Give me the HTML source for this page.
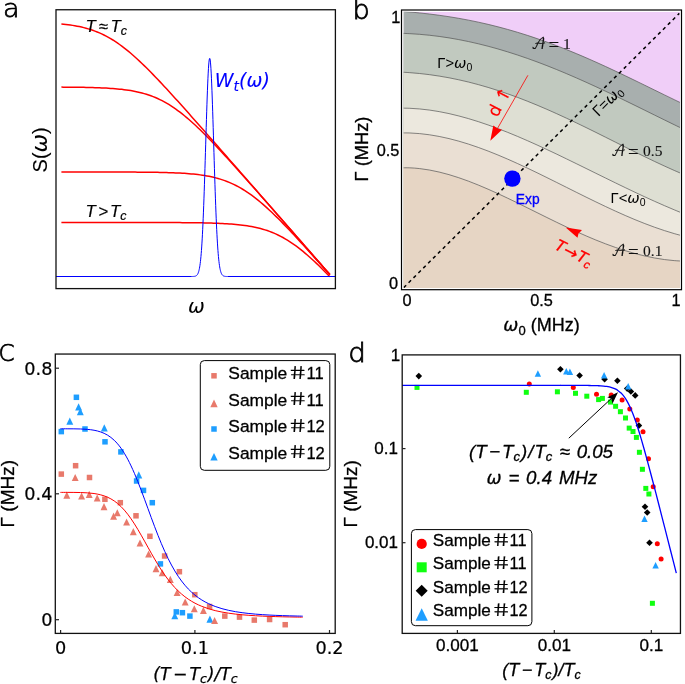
<!DOCTYPE html>
<html lang="en">
<head>
<meta charset="utf-8">
<title>Figure</title>
<style>
html,body{margin:0;padding:0;background:#fff;}
body{width:685px;height:684px;overflow:hidden;}
svg{display:block;}
text{font-family:"Liberation Sans", sans-serif;}
.dj{font-family:"DejaVu Sans", "Liberation Sans", sans-serif;}
.math{font-family:"DejaVu Math TeX Gyre", "DejaVu Serif", "Liberation Serif", serif;}
.it{font-style:italic;}
.ser{font-family:"Liberation Serif", serif;}
</style>
</head>
<body>
<svg width="685" height="684" viewBox="0 0 685 684">
<rect x="0" y="0" width="685" height="684" fill="#ffffff"/>
<g id="panel-a">
<path d="M61.40,23.99 L63.64,24.22 L65.88,24.47 L68.11,24.74 L70.35,25.05 L72.59,25.38 L74.83,25.75 L77.06,26.16 L79.30,26.60 L81.54,27.09 L83.78,27.63 L86.01,28.21 L88.25,28.85 L90.49,29.54 L92.72,30.28 L94.96,31.09 L97.20,31.97 L99.44,32.90 L101.67,33.91 L103.91,34.98 L106.15,36.13 L108.39,37.35 L110.62,38.63 L112.86,39.99 L115.10,41.42 L117.34,42.92 L119.57,44.49 L121.81,46.13 L124.05,47.83 L126.29,49.60 L128.53,51.42 L130.76,53.30 L133.00,55.24 L135.24,57.23 L137.47,59.27 L139.71,61.35 L141.95,63.47 L144.19,65.63 L146.43,67.83 L148.66,70.07 L150.90,72.33 L153.14,74.62 L155.38,76.94 L157.61,79.28 L159.85,81.64 L162.09,84.03 L164.32,86.43 L166.56,88.84 L168.80,91.28 L171.04,93.72 L173.28,96.18 L175.51,98.64 L177.75,101.12 L179.99,103.61 L182.22,106.10 L184.46,108.60 L186.70,111.11 L188.94,113.62 L191.18,116.14 L193.41,118.66 L195.65,121.19 L197.89,123.72 L200.12,126.25 L202.36,128.79 L204.60,131.32 L206.84,133.87 L209.08,136.41 L211.31,138.96 L213.55,141.50 L215.79,144.05 L218.03,146.60 L220.26,149.15 L222.50,151.71 L224.74,154.26 L226.97,156.81 L229.21,159.37 L231.45,161.93 L233.69,164.48 L235.93,167.04 L238.16,169.60 L240.40,172.15 L242.64,174.71 L244.88,177.27 L247.11,179.83 L249.35,182.39 L251.59,184.95 L253.83,187.51 L256.06,190.07 L258.30,192.63 L260.54,195.19 L262.77,197.75 L265.01,200.31 L267.25,202.87 L269.49,205.44 L271.72,208.00 L273.96,210.56 L276.20,213.12 L278.44,215.68 L280.68,218.24 L282.91,220.80 L285.15,223.36 L287.39,225.93 L289.62,228.49 L291.86,231.05 L294.10,233.61 L296.34,236.17 L298.57,238.73 L300.81,241.30 L303.05,243.86 L305.29,246.42 L307.52,248.98 L309.76,251.54 L312.00,254.11 L314.24,256.67 L316.47,259.23 L318.71,261.79 L320.95,264.35 L323.19,266.91 L325.42,269.48 L327.66,272.04 L329.90,274.60" fill="none" stroke="#ff0000" stroke-width="1.5" stroke-linejoin="round"/>
<path d="M61.40,87.12 L63.64,87.14 L65.88,87.15 L68.11,87.17 L70.35,87.19 L72.59,87.21 L74.83,87.24 L77.06,87.26 L79.30,87.30 L81.54,87.33 L83.78,87.37 L86.01,87.41 L88.25,87.46 L90.49,87.51 L92.72,87.58 L94.96,87.64 L97.20,87.72 L99.44,87.80 L101.67,87.89 L103.91,88.00 L106.15,88.11 L108.39,88.24 L110.62,88.38 L112.86,88.54 L115.10,88.72 L117.34,88.91 L119.57,89.13 L121.81,89.37 L124.05,89.64 L126.29,89.93 L128.53,90.25 L130.76,90.61 L133.00,91.00 L135.24,91.43 L137.47,91.90 L139.71,92.42 L141.95,92.99 L144.19,93.60 L146.43,94.27 L148.66,95.00 L150.90,95.79 L153.14,96.63 L155.38,97.55 L157.61,98.53 L159.85,99.58 L162.09,100.70 L164.32,101.89 L166.56,103.15 L168.80,104.48 L171.04,105.88 L173.28,107.36 L175.51,108.90 L177.75,110.52 L179.99,112.19 L182.22,113.94 L184.46,115.74 L186.70,117.60 L188.94,119.52 L191.18,121.49 L193.41,123.50 L195.65,125.57 L197.89,127.68 L200.12,129.83 L202.36,132.01 L204.60,134.23 L206.84,136.49 L209.08,138.77 L211.31,141.08 L213.55,143.41 L215.79,145.76 L218.03,148.14 L220.26,150.53 L222.50,152.94 L224.74,155.37 L226.97,157.81 L229.21,160.26 L231.45,162.73 L233.69,165.20 L235.93,167.68 L238.16,170.17 L240.40,172.67 L242.64,175.17 L244.88,177.68 L247.11,180.20 L249.35,182.72 L251.59,185.25 L253.83,187.78 L256.06,190.31 L258.30,192.84 L260.54,195.38 L262.77,197.92 L265.01,200.46 L267.25,203.01 L269.49,205.56 L271.72,208.10 L273.96,210.65 L276.20,213.21 L278.44,215.76 L280.68,218.31 L282.91,220.87 L285.15,223.42 L287.39,225.98 L289.62,228.53 L291.86,231.09 L294.10,233.65 L296.34,236.20 L298.57,238.76 L300.81,241.32 L303.05,243.88 L305.29,246.44 L307.52,249.00 L309.76,251.56 L312.00,254.12 L314.24,256.68 L316.47,259.24 L318.71,261.80 L320.95,264.36 L323.19,266.92 L325.42,269.48 L327.66,272.05 L329.90,274.61" fill="none" stroke="#ff0000" stroke-width="1.5" stroke-linejoin="round"/>
<path d="M61.40,172.00 L63.64,172.00 L65.88,172.00 L68.11,172.00 L70.35,172.00 L72.59,172.01 L74.83,172.01 L77.06,172.01 L79.30,172.01 L81.54,172.01 L83.78,172.01 L86.01,172.01 L88.25,172.01 L90.49,172.01 L92.72,172.01 L94.96,172.02 L97.20,172.02 L99.44,172.02 L101.67,172.02 L103.91,172.02 L106.15,172.03 L108.39,172.03 L110.62,172.03 L112.86,172.04 L115.10,172.04 L117.34,172.05 L119.57,172.05 L121.81,172.06 L124.05,172.07 L126.29,172.08 L128.53,172.08 L130.76,172.09 L133.00,172.11 L135.24,172.12 L137.47,172.13 L139.71,172.15 L141.95,172.17 L144.19,172.19 L146.43,172.21 L148.66,172.23 L150.90,172.26 L153.14,172.29 L155.38,172.32 L157.61,172.36 L159.85,172.40 L162.09,172.45 L164.32,172.50 L166.56,172.56 L168.80,172.63 L171.04,172.70 L173.28,172.79 L175.51,172.88 L177.75,172.98 L179.99,173.09 L182.22,173.22 L184.46,173.36 L186.70,173.51 L188.94,173.69 L191.18,173.88 L193.41,174.09 L195.65,174.33 L197.89,174.59 L200.12,174.87 L202.36,175.19 L204.60,175.54 L206.84,175.93 L209.08,176.35 L211.31,176.82 L213.55,177.33 L215.79,177.88 L218.03,178.49 L220.26,179.15 L222.50,179.87 L224.74,180.64 L226.97,181.48 L229.21,182.38 L231.45,183.35 L233.69,184.38 L235.93,185.49 L238.16,186.67 L240.40,187.92 L242.64,189.24 L244.88,190.63 L247.11,192.09 L249.35,193.62 L251.59,195.22 L253.83,196.89 L256.06,198.62 L258.30,200.41 L260.54,202.26 L262.77,204.17 L265.01,206.13 L267.25,208.14 L269.49,210.20 L271.72,212.30 L273.96,214.44 L276.20,216.62 L278.44,218.84 L280.68,221.08 L282.91,223.36 L285.15,225.66 L287.39,227.99 L289.62,230.34 L291.86,232.72 L294.10,235.11 L296.34,237.51 L298.57,239.94 L300.81,242.37 L303.05,244.82 L305.29,247.29 L307.52,249.76 L309.76,252.24 L312.00,254.73 L314.24,257.22 L316.47,259.73 L318.71,262.24 L320.95,264.75 L323.19,267.27 L325.42,269.80 L327.66,272.32 L329.90,274.86" fill="none" stroke="#ff0000" stroke-width="1.5" stroke-linejoin="round"/>
<path d="M61.40,222.50 L63.64,222.50 L65.88,222.50 L68.11,222.50 L70.35,222.50 L72.59,222.50 L74.83,222.50 L77.06,222.50 L79.30,222.50 L81.54,222.50 L83.78,222.50 L86.01,222.50 L88.25,222.50 L90.49,222.50 L92.72,222.50 L94.96,222.50 L97.20,222.50 L99.44,222.50 L101.67,222.50 L103.91,222.50 L106.15,222.50 L108.39,222.50 L110.62,222.50 L112.86,222.50 L115.10,222.50 L117.34,222.51 L119.57,222.51 L121.81,222.51 L124.05,222.51 L126.29,222.51 L128.53,222.51 L130.76,222.51 L133.00,222.51 L135.24,222.51 L137.47,222.51 L139.71,222.52 L141.95,222.52 L144.19,222.52 L146.43,222.52 L148.66,222.53 L150.90,222.53 L153.14,222.53 L155.38,222.54 L157.61,222.54 L159.85,222.54 L162.09,222.55 L164.32,222.56 L166.56,222.56 L168.80,222.57 L171.04,222.58 L173.28,222.59 L175.51,222.60 L177.75,222.61 L179.99,222.62 L182.22,222.64 L184.46,222.65 L186.70,222.67 L188.94,222.69 L191.18,222.71 L193.41,222.74 L195.65,222.77 L197.89,222.80 L200.12,222.83 L202.36,222.87 L204.60,222.92 L206.84,222.97 L209.08,223.02 L211.31,223.08 L213.55,223.15 L215.79,223.23 L218.03,223.31 L220.26,223.40 L222.50,223.51 L224.74,223.63 L226.97,223.76 L229.21,223.90 L231.45,224.06 L233.69,224.24 L235.93,224.44 L238.16,224.66 L240.40,224.90 L242.64,225.17 L244.88,225.46 L247.11,225.79 L249.35,226.15 L251.59,226.55 L253.83,226.98 L256.06,227.46 L258.30,227.98 L260.54,228.55 L262.77,229.17 L265.01,229.85 L267.25,230.58 L269.49,231.38 L271.72,232.23 L273.96,233.15 L276.20,234.14 L278.44,235.20 L280.68,236.32 L282.91,237.52 L285.15,238.79 L287.39,240.13 L289.62,241.54 L291.86,243.03 L294.10,244.58 L296.34,246.20 L298.57,247.88 L300.81,249.63 L303.05,251.44 L305.29,253.31 L307.52,255.23 L309.76,257.21 L312.00,259.23 L314.24,261.30 L316.47,263.41 L318.71,265.57 L320.95,267.76 L323.19,269.98 L325.42,272.24 L327.66,274.52 L329.90,276.83" fill="none" stroke="#ff0000" stroke-width="1.5" stroke-linejoin="round"/>
<path d="M56.00,276.50 L191.70,276.49 L191.95,276.49 L192.20,276.48 L192.45,276.48 L192.70,276.47 L192.95,276.47 L193.20,276.46 L193.45,276.44 L193.70,276.43 L193.95,276.41 L194.20,276.38 L194.45,276.35 L194.70,276.31 L194.95,276.26 L195.20,276.19 L195.45,276.12 L195.70,276.02 L195.95,275.91 L196.20,275.77 L196.45,275.60 L196.70,275.39 L196.95,275.14 L197.20,274.85 L197.45,274.49 L197.70,274.08 L197.95,273.58 L198.20,273.00 L198.45,272.32 L198.70,271.53 L198.95,270.61 L199.20,269.54 L199.45,268.32 L199.70,266.91 L199.95,265.31 L200.20,263.50 L200.45,261.45 L200.70,259.14 L200.95,256.56 L201.20,253.68 L201.45,250.49 L201.70,246.97 L201.95,243.10 L202.20,238.88 L202.45,234.28 L202.70,229.31 L202.95,223.96 L203.20,218.23 L203.45,212.13 L203.70,205.66 L203.95,198.85 L204.20,191.72 L204.45,184.29 L204.70,176.60 L204.95,168.69 L205.20,160.61 L205.45,152.42 L205.70,144.16 L205.95,135.89 L206.20,127.70 L206.45,119.64 L206.70,111.79 L206.95,104.23 L207.20,97.01 L207.45,90.23 L207.70,83.94 L207.95,78.21 L208.20,73.12 L208.45,68.70 L208.70,65.01 L208.95,62.10 L209.20,60.00 L209.45,58.73 L209.70,58.30 L209.95,58.73 L210.20,60.00 L210.45,62.10 L210.70,65.01 L210.95,68.70 L211.20,73.12 L211.45,78.21 L211.70,83.94 L211.95,90.23 L212.20,97.01 L212.45,104.23 L212.70,111.79 L212.95,119.64 L213.20,127.70 L213.45,135.89 L213.70,144.16 L213.95,152.42 L214.20,160.61 L214.45,168.69 L214.70,176.60 L214.95,184.29 L215.20,191.72 L215.45,198.85 L215.70,205.66 L215.95,212.13 L216.20,218.23 L216.45,223.96 L216.70,229.31 L216.95,234.28 L217.20,238.88 L217.45,243.10 L217.70,246.97 L217.95,250.49 L218.20,253.68 L218.45,256.56 L218.70,259.14 L218.95,261.45 L219.20,263.50 L219.45,265.31 L219.70,266.91 L219.95,268.32 L220.20,269.54 L220.45,270.61 L220.70,271.53 L220.95,272.32 L221.20,273.00 L221.45,273.58 L221.70,274.08 L221.95,274.49 L222.20,274.85 L222.45,275.14 L222.70,275.39 L222.95,275.60 L223.20,275.77 L223.45,275.91 L223.70,276.02 L223.95,276.12 L224.20,276.19 L224.45,276.26 L224.70,276.31 L224.95,276.35 L225.20,276.38 L225.45,276.41 L225.70,276.43 L225.95,276.44 L226.20,276.46 L226.45,276.47 L226.70,276.47 L226.95,276.48 L227.20,276.48 L227.45,276.49 L227.70,276.49 L335.40,276.50" fill="none" stroke="#0000ff" stroke-width="1.0" stroke-linejoin="round"/>
<rect x="56" y="9.75" width="279.4" height="278.85" fill="none" stroke="#111" stroke-width="1.3"/>
<text transform="translate(3.0 17.3) scale(1.06 1)" font-size="25.5" fill="#000" stroke="#000" stroke-width="0.75" style="font-family:'DejaVu Sans','Liberation Sans',sans-serif;font-weight:200">a</text>
<text x="85.4" y="31.7" font-size="16.8" class="it" fill="#000" text-anchor="start" stroke="#000" stroke-width="0.2">T<tspan dx="3.2">≈</tspan><tspan dx="2.3">T</tspan><tspan dy="3" font-size="12.5">c</tspan></text>
<text x="85.4" y="217.3" font-size="16.8" class="it" fill="#000" text-anchor="start" stroke="#000" stroke-width="0.2">T<tspan dx="2.5">&gt;</tspan><tspan dx="2">T</tspan><tspan dy="3" font-size="12.5">c</tspan></text>
<text x="214.8" y="87.2" font-size="19" class="dj it" fill="#0000ff" text-anchor="start" stroke="#0000ff" stroke-width="0.1">W<tspan dy="3.5" font-size="14">t</tspan><tspan dy="-3.5">(ω)</tspan></text>
<text x="47.5" y="149.9" font-size="20" fill="#000" text-anchor="middle" transform="rotate(-90 47.5 149.9)" stroke="#000" stroke-width="0.1">S(<tspan class="dj it" font-size="22">ω</tspan>)</text>
<text x="196.4" y="313" font-size="20" class="dj it" fill="#000" text-anchor="middle" stroke="#000" stroke-width="0.05">ω</text>
</g>
<g id="panel-b">
<clipPath id="clipb"><rect x="403.6" y="11.8" width="276.4" height="276.09999999999997"/></clipPath>
<g clip-path="url(#clipb)">
<rect x="403.6" y="11.8" width="276.4" height="276.09999999999997" fill="#f0cef8"/>
<path d="M400.00,11.13 C401.63,11.27 406.53,11.66 409.79,11.95 C413.06,12.25 416.32,12.56 419.59,12.91 C422.85,13.25 426.11,13.61 429.38,14.01 C432.64,14.40 435.91,14.82 439.17,15.27 C442.44,15.72 445.70,16.20 448.97,16.70 C452.23,17.21 455.49,17.75 458.76,18.32 C462.02,18.90 465.29,19.50 468.55,20.14 C471.82,20.78 475.08,21.45 478.34,22.15 C481.61,22.86 484.87,23.59 488.14,24.37 C491.40,25.14 494.67,25.95 497.93,26.80 C501.20,27.64 504.46,28.52 507.72,29.44 C510.99,30.35 514.25,31.30 517.52,32.29 C520.78,33.27 524.05,34.29 527.31,35.34 C530.57,36.40 533.84,37.49 537.10,38.61 C540.37,39.73 543.63,40.89 546.90,42.07 C550.16,43.26 553.43,44.48 556.69,45.73 C559.95,46.98 563.22,48.26 566.48,49.57 C569.75,50.88 573.01,52.22 576.28,53.59 C579.54,54.95 582.80,56.35 586.07,57.76 C589.33,59.18 592.60,60.62 595.86,62.09 C599.13,63.55 602.39,65.04 605.66,66.54 C608.92,68.04 612.18,69.57 615.45,71.11 C618.71,72.64 621.98,74.20 625.24,75.77 C628.51,77.33 631.77,78.91 635.03,80.50 C638.30,82.08 641.56,83.68 644.83,85.28 C648.09,86.87 651.36,88.48 654.62,90.08 C657.89,91.68 661.15,93.29 664.41,94.88 C667.68,96.48 670.94,98.07 674.21,99.65 C677.47,101.23 682.37,103.57 684.00,104.36 L684.0,294.7 L400.0,294.7 Z" fill="#a8afae" stroke="none"/>
<path d="M400.00,33.28 C401.63,33.35 406.53,33.49 409.79,33.66 C413.06,33.84 416.32,34.05 419.59,34.32 C422.85,34.58 426.11,34.89 429.38,35.24 C432.64,35.59 435.91,35.99 439.17,36.43 C442.44,36.87 445.70,37.36 448.97,37.89 C452.23,38.41 455.49,38.99 458.76,39.60 C462.02,40.21 465.29,40.87 468.55,41.57 C471.82,42.27 475.08,43.01 478.34,43.79 C481.61,44.57 484.87,45.39 488.14,46.25 C491.40,47.11 494.67,48.01 497.93,48.95 C501.20,49.89 504.46,50.86 507.72,51.88 C510.99,52.89 514.25,53.94 517.52,55.02 C520.78,56.10 524.05,57.22 527.31,58.37 C530.57,59.52 533.84,60.70 537.10,61.92 C540.37,63.13 543.63,64.38 546.90,65.65 C550.16,66.93 553.43,68.24 556.69,69.57 C559.95,70.90 563.22,72.26 566.48,73.64 C569.75,75.02 573.01,76.43 576.28,77.86 C579.54,79.29 582.80,80.74 586.07,82.22 C589.33,83.69 592.60,85.18 595.86,86.69 C599.13,88.20 602.39,89.73 605.66,91.27 C608.92,92.81 612.18,94.37 615.45,95.93 C618.71,97.50 621.98,99.08 625.24,100.67 C628.51,102.25 631.77,103.85 635.03,105.45 C638.30,107.05 641.56,108.66 644.83,110.27 C648.09,111.88 651.36,113.49 654.62,115.10 C657.89,116.71 661.15,118.32 664.41,119.92 C667.68,121.52 670.94,123.12 674.21,124.71 C677.47,126.30 682.37,128.66 684.00,129.45 L684.0,294.7 L400.0,294.7 Z" fill="#c1c9bf" stroke="none"/>
<path d="M400.00,72.09 C401.63,72.19 406.53,72.42 409.79,72.66 C413.06,72.90 416.32,73.18 419.59,73.51 C422.85,73.85 426.11,74.22 429.38,74.65 C432.64,75.08 435.91,75.55 439.17,76.08 C442.44,76.60 445.70,77.17 448.97,77.79 C452.23,78.41 455.49,79.07 458.76,79.79 C462.02,80.50 465.29,81.26 468.55,82.06 C471.82,82.87 475.08,83.72 478.34,84.61 C481.61,85.51 484.87,86.45 488.14,87.43 C491.40,88.41 494.67,89.44 497.93,90.51 C501.20,91.57 504.46,92.68 507.72,93.83 C510.99,94.98 514.25,96.17 517.52,97.39 C520.78,98.61 524.05,99.88 527.31,101.17 C530.57,102.47 533.84,103.80 537.10,105.16 C540.37,106.52 543.63,107.92 546.90,109.34 C550.16,110.76 553.43,112.21 556.69,113.69 C559.95,115.17 563.22,116.67 566.48,118.19 C569.75,119.71 573.01,121.26 576.28,122.82 C579.54,124.39 582.80,125.97 586.07,127.56 C589.33,129.16 592.60,130.77 595.86,132.39 C599.13,134.00 602.39,135.63 605.66,137.27 C608.92,138.90 612.18,140.54 615.45,142.17 C618.71,143.81 621.98,145.45 625.24,147.08 C628.51,148.71 631.77,150.33 635.03,151.95 C638.30,153.56 641.56,155.17 644.83,156.75 C648.09,158.34 651.36,159.91 654.62,161.46 C657.89,163.01 661.15,164.54 664.41,166.03 C667.68,167.53 670.94,169.00 674.21,170.43 C677.47,171.86 682.37,173.92 684.00,174.62 L684.0,294.7 L400.0,294.7 Z" fill="#dedfd3" stroke="none"/>
<path d="M400.00,108.14 C401.63,108.16 406.53,108.16 409.79,108.29 C413.06,108.42 416.32,108.65 419.59,108.94 C422.85,109.24 426.11,109.62 429.38,110.06 C432.64,110.51 435.91,111.03 439.17,111.62 C442.44,112.21 445.70,112.87 448.97,113.59 C452.23,114.31 455.49,115.09 458.76,115.94 C462.02,116.78 465.29,117.68 468.55,118.63 C471.82,119.59 475.08,120.60 478.34,121.65 C481.61,122.71 484.87,123.82 488.14,124.97 C491.40,126.12 494.67,127.31 497.93,128.55 C501.20,129.78 504.46,131.06 507.72,132.37 C510.99,133.68 514.25,135.03 517.52,136.40 C520.78,137.78 524.05,139.19 527.31,140.62 C530.57,142.05 533.84,143.52 537.10,145.00 C540.37,146.48 543.63,147.99 546.90,149.52 C550.16,151.04 553.43,152.59 556.69,154.14 C559.95,155.70 563.22,157.27 566.48,158.86 C569.75,160.44 573.01,162.03 576.28,163.63 C579.54,165.23 582.80,166.84 586.07,168.44 C589.33,170.05 592.60,171.66 595.86,173.27 C599.13,174.88 602.39,176.49 605.66,178.09 C608.92,179.69 612.18,181.29 615.45,182.88 C618.71,184.47 621.98,186.05 625.24,187.62 C628.51,189.19 631.77,190.75 635.03,192.29 C638.30,193.83 641.56,195.36 644.83,196.86 C648.09,198.36 651.36,199.85 654.62,201.32 C657.89,202.78 661.15,204.22 664.41,205.64 C667.68,207.06 670.94,208.45 674.21,209.81 C677.47,211.17 682.37,213.14 684.00,213.80 L684.0,294.7 L400.0,294.7 Z" fill="#ece8de" stroke="none"/>
<path d="M400.00,132.93 C401.63,132.94 406.53,132.86 409.79,132.97 C413.06,133.09 416.32,133.30 419.59,133.60 C422.85,133.90 426.11,134.30 429.38,134.77 C432.64,135.24 435.91,135.81 439.17,136.44 C442.44,137.08 445.70,137.80 448.97,138.58 C452.23,139.37 455.49,140.23 458.76,141.15 C462.02,142.08 465.29,143.07 468.55,144.12 C471.82,145.16 475.08,146.28 478.34,147.44 C481.61,148.59 484.87,149.81 488.14,151.07 C491.40,152.33 494.67,153.65 497.93,154.99 C501.20,156.34 504.46,157.74 507.72,159.16 C510.99,160.59 514.25,162.05 517.52,163.54 C520.78,165.03 524.05,166.55 527.31,168.09 C530.57,169.63 533.84,171.20 537.10,172.78 C540.37,174.37 543.63,175.97 546.90,177.58 C550.16,179.19 553.43,180.82 556.69,182.44 C559.95,184.07 563.22,185.71 566.48,187.34 C569.75,188.97 573.01,190.61 576.28,192.24 C579.54,193.86 582.80,195.49 586.07,197.10 C589.33,198.70 592.60,200.31 595.86,201.89 C599.13,203.46 602.39,205.03 605.66,206.57 C608.92,208.11 612.18,209.63 615.45,211.12 C618.71,212.60 621.98,214.07 625.24,215.49 C628.51,216.91 631.77,218.31 635.03,219.66 C638.30,221.01 641.56,222.32 644.83,223.58 C648.09,224.85 651.36,226.07 654.62,227.24 C657.89,228.41 661.15,229.53 664.41,230.59 C667.68,231.65 670.94,232.66 674.21,233.60 C677.47,234.54 682.37,235.80 684.00,236.24 L684.0,294.7 L400.0,294.7 Z" fill="#eadfd3" stroke="none"/>
<path d="M400.00,167.83 C401.63,167.83 406.53,167.70 409.79,167.83 C413.06,167.95 416.32,168.22 419.59,168.58 C422.85,168.94 426.11,169.43 429.38,170.01 C432.64,170.59 435.91,171.28 439.17,172.05 C442.44,172.82 445.70,173.69 448.97,174.64 C452.23,175.58 455.49,176.61 458.76,177.71 C462.02,178.80 465.29,179.98 468.55,181.20 C471.82,182.43 475.08,183.72 478.34,185.06 C481.61,186.39 484.87,187.79 488.14,189.22 C491.40,190.65 494.67,192.12 497.93,193.63 C501.20,195.13 504.46,196.67 507.72,198.23 C510.99,199.78 514.25,201.37 517.52,202.96 C520.78,204.56 524.05,206.17 527.31,207.79 C530.57,209.40 533.84,211.03 537.10,212.65 C540.37,214.27 543.63,215.90 546.90,217.50 C550.16,219.11 553.43,220.72 556.69,222.30 C559.95,223.88 563.22,225.45 566.48,226.99 C569.75,228.53 573.01,230.05 576.28,231.54 C579.54,233.02 582.80,234.48 586.07,235.89 C589.33,237.31 592.60,238.69 595.86,240.02 C599.13,241.36 602.39,242.65 605.66,243.89 C608.92,245.13 612.18,246.32 615.45,247.45 C618.71,248.58 621.98,249.66 625.24,250.67 C628.51,251.69 631.77,252.64 635.03,253.53 C638.30,254.41 641.56,255.23 644.83,255.98 C648.09,256.72 651.36,257.40 654.62,257.99 C657.89,258.59 661.15,259.11 664.41,259.55 C667.68,259.99 670.94,260.35 674.21,260.62 C677.47,260.89 682.37,261.08 684.00,261.18 L684.0,294.7 L400.0,294.7 Z" fill="#e6d5c4" stroke="none"/>
<path d="M400.00,11.13 C401.63,11.27 406.53,11.66 409.79,11.95 C413.06,12.25 416.32,12.56 419.59,12.91 C422.85,13.25 426.11,13.61 429.38,14.01 C432.64,14.40 435.91,14.82 439.17,15.27 C442.44,15.72 445.70,16.20 448.97,16.70 C452.23,17.21 455.49,17.75 458.76,18.32 C462.02,18.90 465.29,19.50 468.55,20.14 C471.82,20.78 475.08,21.45 478.34,22.15 C481.61,22.86 484.87,23.59 488.14,24.37 C491.40,25.14 494.67,25.95 497.93,26.80 C501.20,27.64 504.46,28.52 507.72,29.44 C510.99,30.35 514.25,31.30 517.52,32.29 C520.78,33.27 524.05,34.29 527.31,35.34 C530.57,36.40 533.84,37.49 537.10,38.61 C540.37,39.73 543.63,40.89 546.90,42.07 C550.16,43.26 553.43,44.48 556.69,45.73 C559.95,46.98 563.22,48.26 566.48,49.57 C569.75,50.88 573.01,52.22 576.28,53.59 C579.54,54.95 582.80,56.35 586.07,57.76 C589.33,59.18 592.60,60.62 595.86,62.09 C599.13,63.55 602.39,65.04 605.66,66.54 C608.92,68.04 612.18,69.57 615.45,71.11 C618.71,72.64 621.98,74.20 625.24,75.77 C628.51,77.33 631.77,78.91 635.03,80.50 C638.30,82.08 641.56,83.68 644.83,85.28 C648.09,86.87 651.36,88.48 654.62,90.08 C657.89,91.68 661.15,93.29 664.41,94.88 C667.68,96.48 670.94,98.07 674.21,99.65 C677.47,101.23 682.37,103.57 684.00,104.36" fill="none" stroke="#555" stroke-width="0.7"/>
<path d="M400.00,33.28 C401.63,33.35 406.53,33.49 409.79,33.66 C413.06,33.84 416.32,34.05 419.59,34.32 C422.85,34.58 426.11,34.89 429.38,35.24 C432.64,35.59 435.91,35.99 439.17,36.43 C442.44,36.87 445.70,37.36 448.97,37.89 C452.23,38.41 455.49,38.99 458.76,39.60 C462.02,40.21 465.29,40.87 468.55,41.57 C471.82,42.27 475.08,43.01 478.34,43.79 C481.61,44.57 484.87,45.39 488.14,46.25 C491.40,47.11 494.67,48.01 497.93,48.95 C501.20,49.89 504.46,50.86 507.72,51.88 C510.99,52.89 514.25,53.94 517.52,55.02 C520.78,56.10 524.05,57.22 527.31,58.37 C530.57,59.52 533.84,60.70 537.10,61.92 C540.37,63.13 543.63,64.38 546.90,65.65 C550.16,66.93 553.43,68.24 556.69,69.57 C559.95,70.90 563.22,72.26 566.48,73.64 C569.75,75.02 573.01,76.43 576.28,77.86 C579.54,79.29 582.80,80.74 586.07,82.22 C589.33,83.69 592.60,85.18 595.86,86.69 C599.13,88.20 602.39,89.73 605.66,91.27 C608.92,92.81 612.18,94.37 615.45,95.93 C618.71,97.50 621.98,99.08 625.24,100.67 C628.51,102.25 631.77,103.85 635.03,105.45 C638.30,107.05 641.56,108.66 644.83,110.27 C648.09,111.88 651.36,113.49 654.62,115.10 C657.89,116.71 661.15,118.32 664.41,119.92 C667.68,121.52 670.94,123.12 674.21,124.71 C677.47,126.30 682.37,128.66 684.00,129.45" fill="none" stroke="#555" stroke-width="0.7"/>
<path d="M400.00,72.09 C401.63,72.19 406.53,72.42 409.79,72.66 C413.06,72.90 416.32,73.18 419.59,73.51 C422.85,73.85 426.11,74.22 429.38,74.65 C432.64,75.08 435.91,75.55 439.17,76.08 C442.44,76.60 445.70,77.17 448.97,77.79 C452.23,78.41 455.49,79.07 458.76,79.79 C462.02,80.50 465.29,81.26 468.55,82.06 C471.82,82.87 475.08,83.72 478.34,84.61 C481.61,85.51 484.87,86.45 488.14,87.43 C491.40,88.41 494.67,89.44 497.93,90.51 C501.20,91.57 504.46,92.68 507.72,93.83 C510.99,94.98 514.25,96.17 517.52,97.39 C520.78,98.61 524.05,99.88 527.31,101.17 C530.57,102.47 533.84,103.80 537.10,105.16 C540.37,106.52 543.63,107.92 546.90,109.34 C550.16,110.76 553.43,112.21 556.69,113.69 C559.95,115.17 563.22,116.67 566.48,118.19 C569.75,119.71 573.01,121.26 576.28,122.82 C579.54,124.39 582.80,125.97 586.07,127.56 C589.33,129.16 592.60,130.77 595.86,132.39 C599.13,134.00 602.39,135.63 605.66,137.27 C608.92,138.90 612.18,140.54 615.45,142.17 C618.71,143.81 621.98,145.45 625.24,147.08 C628.51,148.71 631.77,150.33 635.03,151.95 C638.30,153.56 641.56,155.17 644.83,156.75 C648.09,158.34 651.36,159.91 654.62,161.46 C657.89,163.01 661.15,164.54 664.41,166.03 C667.68,167.53 670.94,169.00 674.21,170.43 C677.47,171.86 682.37,173.92 684.00,174.62" fill="none" stroke="#555" stroke-width="0.7"/>
<path d="M400.00,108.14 C401.63,108.16 406.53,108.16 409.79,108.29 C413.06,108.42 416.32,108.65 419.59,108.94 C422.85,109.24 426.11,109.62 429.38,110.06 C432.64,110.51 435.91,111.03 439.17,111.62 C442.44,112.21 445.70,112.87 448.97,113.59 C452.23,114.31 455.49,115.09 458.76,115.94 C462.02,116.78 465.29,117.68 468.55,118.63 C471.82,119.59 475.08,120.60 478.34,121.65 C481.61,122.71 484.87,123.82 488.14,124.97 C491.40,126.12 494.67,127.31 497.93,128.55 C501.20,129.78 504.46,131.06 507.72,132.37 C510.99,133.68 514.25,135.03 517.52,136.40 C520.78,137.78 524.05,139.19 527.31,140.62 C530.57,142.05 533.84,143.52 537.10,145.00 C540.37,146.48 543.63,147.99 546.90,149.52 C550.16,151.04 553.43,152.59 556.69,154.14 C559.95,155.70 563.22,157.27 566.48,158.86 C569.75,160.44 573.01,162.03 576.28,163.63 C579.54,165.23 582.80,166.84 586.07,168.44 C589.33,170.05 592.60,171.66 595.86,173.27 C599.13,174.88 602.39,176.49 605.66,178.09 C608.92,179.69 612.18,181.29 615.45,182.88 C618.71,184.47 621.98,186.05 625.24,187.62 C628.51,189.19 631.77,190.75 635.03,192.29 C638.30,193.83 641.56,195.36 644.83,196.86 C648.09,198.36 651.36,199.85 654.62,201.32 C657.89,202.78 661.15,204.22 664.41,205.64 C667.68,207.06 670.94,208.45 674.21,209.81 C677.47,211.17 682.37,213.14 684.00,213.80" fill="none" stroke="#555" stroke-width="0.7"/>
<path d="M400.00,132.93 C401.63,132.94 406.53,132.86 409.79,132.97 C413.06,133.09 416.32,133.30 419.59,133.60 C422.85,133.90 426.11,134.30 429.38,134.77 C432.64,135.24 435.91,135.81 439.17,136.44 C442.44,137.08 445.70,137.80 448.97,138.58 C452.23,139.37 455.49,140.23 458.76,141.15 C462.02,142.08 465.29,143.07 468.55,144.12 C471.82,145.16 475.08,146.28 478.34,147.44 C481.61,148.59 484.87,149.81 488.14,151.07 C491.40,152.33 494.67,153.65 497.93,154.99 C501.20,156.34 504.46,157.74 507.72,159.16 C510.99,160.59 514.25,162.05 517.52,163.54 C520.78,165.03 524.05,166.55 527.31,168.09 C530.57,169.63 533.84,171.20 537.10,172.78 C540.37,174.37 543.63,175.97 546.90,177.58 C550.16,179.19 553.43,180.82 556.69,182.44 C559.95,184.07 563.22,185.71 566.48,187.34 C569.75,188.97 573.01,190.61 576.28,192.24 C579.54,193.86 582.80,195.49 586.07,197.10 C589.33,198.70 592.60,200.31 595.86,201.89 C599.13,203.46 602.39,205.03 605.66,206.57 C608.92,208.11 612.18,209.63 615.45,211.12 C618.71,212.60 621.98,214.07 625.24,215.49 C628.51,216.91 631.77,218.31 635.03,219.66 C638.30,221.01 641.56,222.32 644.83,223.58 C648.09,224.85 651.36,226.07 654.62,227.24 C657.89,228.41 661.15,229.53 664.41,230.59 C667.68,231.65 670.94,232.66 674.21,233.60 C677.47,234.54 682.37,235.80 684.00,236.24" fill="none" stroke="#555" stroke-width="0.7"/>
<path d="M400.00,167.83 C401.63,167.83 406.53,167.70 409.79,167.83 C413.06,167.95 416.32,168.22 419.59,168.58 C422.85,168.94 426.11,169.43 429.38,170.01 C432.64,170.59 435.91,171.28 439.17,172.05 C442.44,172.82 445.70,173.69 448.97,174.64 C452.23,175.58 455.49,176.61 458.76,177.71 C462.02,178.80 465.29,179.98 468.55,181.20 C471.82,182.43 475.08,183.72 478.34,185.06 C481.61,186.39 484.87,187.79 488.14,189.22 C491.40,190.65 494.67,192.12 497.93,193.63 C501.20,195.13 504.46,196.67 507.72,198.23 C510.99,199.78 514.25,201.37 517.52,202.96 C520.78,204.56 524.05,206.17 527.31,207.79 C530.57,209.40 533.84,211.03 537.10,212.65 C540.37,214.27 543.63,215.90 546.90,217.50 C550.16,219.11 553.43,220.72 556.69,222.30 C559.95,223.88 563.22,225.45 566.48,226.99 C569.75,228.53 573.01,230.05 576.28,231.54 C579.54,233.02 582.80,234.48 586.07,235.89 C589.33,237.31 592.60,238.69 595.86,240.02 C599.13,241.36 602.39,242.65 605.66,243.89 C608.92,245.13 612.18,246.32 615.45,247.45 C618.71,248.58 621.98,249.66 625.24,250.67 C628.51,251.69 631.77,252.64 635.03,253.53 C638.30,254.41 641.56,255.23 644.83,255.98 C648.09,256.72 651.36,257.40 654.62,257.99 C657.89,258.59 661.15,259.11 664.41,259.55 C667.68,259.99 670.94,260.35 674.21,260.62 C677.47,260.89 682.37,261.08 684.00,261.18" fill="none" stroke="#555" stroke-width="0.7"/>
<line x1="403.7" y1="287.6" x2="679.3" y2="13.4" stroke="#000" stroke-width="1.5" stroke-dasharray="3.45 3.45"/>
</g>
<rect x="401.5" y="10.0" width="280.0" height="279.7" fill="none" stroke="#000" stroke-width="1.2"/>
<text transform="translate(352.4 19.3) scale(1.05 1)" font-size="26" fill="#000" stroke="#000" stroke-width="0.75" style="font-family:'DejaVu Sans','Liberation Sans',sans-serif;font-weight:200">b</text>
<text x="400.2" y="22.5" font-size="16.3" fill="#000" text-anchor="end" stroke="#000" stroke-width="0.3">1</text>
<text x="399.3" y="156" font-size="16.3" fill="#000" text-anchor="end" stroke="#000" stroke-width="0.3">0.5</text>
<text x="398" y="289" font-size="16.3" fill="#000" text-anchor="end" stroke="#000" stroke-width="0.3">0</text>
<text x="407" y="306" font-size="16.3" fill="#000" text-anchor="middle" stroke="#000" stroke-width="0.3">0</text>
<text x="541.5" y="306" font-size="16.3" fill="#000" text-anchor="middle" stroke="#000" stroke-width="0.3">0.5</text>
<text x="676" y="306" font-size="16.3" fill="#000" text-anchor="middle" stroke="#000" stroke-width="0.3">1</text>
<text x="367.5" y="149" font-size="18.3" fill="#000" text-anchor="middle" transform="rotate(-90 367.5 149)" stroke="#000" stroke-width="0.3">Γ (MHz)</text>
<text x="541.5" y="331" font-size="18" fill="#000" text-anchor="middle" stroke="#000" stroke-width="0.3"><tspan class="dj it">ω</tspan><tspan dy="4" font-size="13">0</tspan><tspan dy="-4"> (MHz)</tspan></text>
<text x="437.3" y="68.4" font-size="14.8" fill="#000" text-anchor="start">Γ&gt;<tspan class="dj it">ω</tspan><tspan dy="3" font-size="10.5">0</tspan></text>
<text x="610.5" y="203.3" font-size="14.8" fill="#000" text-anchor="start">Γ&lt;<tspan class="dj it">ω</tspan><tspan dy="3" font-size="10.5">0</tspan></text>
<text x="611" y="104.5" font-size="15" fill="#000" text-anchor="middle" transform="rotate(-45 611 104.5)">Γ=<tspan class="dj it">ω</tspan><tspan dy="3" font-size="10.5">0</tspan></text>
<text x="531.2" y="49" font-size="15.5" class="ser" fill="#111" text-anchor="start" stroke="#111" stroke-width="0.12"><tspan class="math" font-size="14">𝒜</tspan><tspan x="548.5" dy="1.8" font-size="19">=</tspan><tspan x="563" dy="-1.8">1</tspan></text>
<text x="610.9" y="155.85" font-size="15.5" class="ser" fill="#111" text-anchor="start" stroke="#111" stroke-width="0.12"><tspan class="math" font-size="14">𝒜</tspan><tspan x="628" dy="1.8" font-size="19">=</tspan><tspan x="643" dy="-1.8">0.5</tspan></text>
<text x="611.2" y="255.7" font-size="15.5" class="ser" fill="#111" text-anchor="start" stroke="#111" stroke-width="0.12"><tspan class="math" font-size="14">𝒜</tspan><tspan x="628" dy="1.8" font-size="19">=</tspan><tspan x="643" dy="-1.8">0.1</tspan></text>
<circle cx="512.4" cy="178.6" r="8.2" fill="#0000ff"/>
<text x="515.8" y="203.6" font-size="13.8" fill="#0000ff" text-anchor="start" stroke="#0000ff" stroke-width="0.3">Exp</text>
<line x1="527.9" y1="75.3" x2="496" y2="131" stroke="#ff0000" stroke-width="0.8"/>
<path d="M490.3,140.7 L493.3,125.4 L497.5,128.5 L502,129.8 Z" fill="#ff0000"/>
<text x="504.5" y="104.5" font-size="17" class="dj" fill="#ff0000" text-anchor="middle" transform="rotate(-62 504.5 104.5)" stroke="#ff0000" stroke-width="0.15">d ↑</text>
<path d="M565.7,227.4 L582,230.1 L578.5,233.6 L577.5,237.7 Z" fill="#ff0000"/>
<text x="571.3" y="257.6" font-size="16.5" class="it" fill="#ff0000" text-anchor="middle" transform="rotate(26.7 571.3 257.6)" stroke="#ff0000" stroke-width="0.3">T<tspan font-size="17" class="dj" dy="1">→</tspan><tspan dy="-1">T</tspan><tspan dy="3" font-size="11.5">c</tspan></text>
</g>
<g id="panel-c">
<rect x="73.65" y="394.55" width="5.5" height="5.5" fill="#1e9eff"/>
<rect x="58.55" y="428.85" width="5.5" height="5.5" fill="#1e9eff"/>
<rect x="82.25" y="426.25" width="5.5" height="5.5" fill="#1e9eff"/>
<rect x="102.25" y="439.05" width="5.5" height="5.5" fill="#1e9eff"/>
<rect x="118.15" y="449.15" width="5.5" height="5.5" fill="#1e9eff"/>
<rect x="133.85" y="478.25" width="5.5" height="5.5" fill="#1e9eff"/>
<rect x="140.75" y="487.65" width="5.5" height="5.5" fill="#1e9eff"/>
<rect x="149.55" y="499.95" width="5.5" height="5.5" fill="#1e9eff"/>
<rect x="157.65" y="561.15" width="5.5" height="5.5" fill="#1e9eff"/>
<rect x="173.55" y="609.15" width="5.5" height="5.5" fill="#1e9eff"/>
<rect x="179.65" y="609.95" width="5.5" height="5.5" fill="#1e9eff"/>
<rect x="187.15" y="613.35" width="5.5" height="5.5" fill="#1e9eff"/>
<path d="M78.60,403.35 L82.05,410.45 L75.15,410.45 Z" fill="#1e9eff"/>
<path d="M80.30,408.05 L83.75,415.15 L76.85,415.15 Z" fill="#1e9eff"/>
<path d="M69.80,417.55 L73.25,424.65 L66.35,424.65 Z" fill="#1e9eff"/>
<path d="M104.30,424.35 L107.75,431.45 L100.85,431.45 Z" fill="#1e9eff"/>
<path d="M138.80,471.35 L142.25,478.45 L135.35,478.45 Z" fill="#1e9eff"/>
<path d="M174.80,612.15 L178.25,619.25 L171.35,619.25 Z" fill="#1e9eff"/>
<path d="M209.90,615.55 L213.35,622.65 L206.45,622.65 Z" fill="#1e9eff"/>
<rect x="72.85" y="462.95" width="5.5" height="5.5" fill="#e8796b"/>
<rect x="58.55" y="471.35" width="5.5" height="5.5" fill="#e8796b"/>
<rect x="86.75" y="474.75" width="5.5" height="5.5" fill="#e8796b"/>
<rect x="102.15" y="496.55" width="5.5" height="5.5" fill="#e8796b"/>
<rect x="117.55" y="499.95" width="5.5" height="5.5" fill="#e8796b"/>
<rect x="133.25" y="513.05" width="5.5" height="5.5" fill="#e8796b"/>
<rect x="147.15" y="533.55" width="5.5" height="5.5" fill="#e8796b"/>
<rect x="161.85" y="553.25" width="5.5" height="5.5" fill="#e8796b"/>
<rect x="176.65" y="568.95" width="5.5" height="5.5" fill="#e8796b"/>
<rect x="192.05" y="591.95" width="5.5" height="5.5" fill="#e8796b"/>
<rect x="206.85" y="603.75" width="5.5" height="5.5" fill="#e8796b"/>
<rect x="222.05" y="613.35" width="5.5" height="5.5" fill="#e8796b"/>
<rect x="236.75" y="614.35" width="5.5" height="5.5" fill="#e8796b"/>
<rect x="251.55" y="617.35" width="5.5" height="5.5" fill="#e8796b"/>
<rect x="266.85" y="616.75" width="5.5" height="5.5" fill="#e8796b"/>
<rect x="282.45" y="621.95" width="5.5" height="5.5" fill="#e8796b"/>
<path d="M75.20,473.95 L78.65,481.05 L71.75,481.05 Z" fill="#e8796b"/>
<path d="M66.80,491.55 L70.25,498.65 L63.35,498.65 Z" fill="#e8796b"/>
<path d="M81.60,492.45 L85.05,499.55 L78.15,499.55 Z" fill="#e8796b"/>
<path d="M89.20,490.85 L92.65,497.95 L85.75,497.95 Z" fill="#e8796b"/>
<path d="M97.20,494.45 L100.65,501.55 L93.75,501.55 Z" fill="#e8796b"/>
<path d="M104.00,503.05 L107.45,510.15 L100.55,510.15 Z" fill="#e8796b"/>
<path d="M113.60,512.55 L117.05,519.65 L110.15,519.65 Z" fill="#e8796b"/>
<path d="M117.30,509.25 L120.75,516.35 L113.85,516.35 Z" fill="#e8796b"/>
<path d="M126.60,518.45 L130.05,525.55 L123.15,525.55 Z" fill="#e8796b"/>
<path d="M133.30,528.05 L136.75,535.15 L129.85,535.15 Z" fill="#e8796b"/>
<path d="M140.00,539.45 L143.45,546.55 L136.55,546.55 Z" fill="#e8796b"/>
<path d="M148.60,550.45 L152.05,557.55 L145.15,557.55 Z" fill="#e8796b"/>
<path d="M156.00,565.05 L159.45,572.15 L152.55,572.15 Z" fill="#e8796b"/>
<path d="M162.20,569.15 L165.65,576.25 L158.75,576.25 Z" fill="#e8796b"/>
<path d="M170.30,575.85 L173.75,582.95 L166.85,582.95 Z" fill="#e8796b"/>
<path d="M177.10,588.95 L180.55,596.05 L173.65,596.05 Z" fill="#e8796b"/>
<path d="M185.20,598.45 L188.65,605.55 L181.75,605.55 Z" fill="#e8796b"/>
<path d="M194.30,605.15 L197.75,612.25 L190.85,612.25 Z" fill="#e8796b"/>
<path d="M203.40,606.85 L206.85,613.95 L199.95,613.95 Z" fill="#e8796b"/>
<path d="M214.60,616.95 L218.05,624.05 L211.15,624.05 Z" fill="#e8796b"/>
<path d="M60.40,492.38 C61.52,492.39 64.89,492.38 67.13,492.39 C69.37,492.40 71.62,492.40 73.86,492.42 C76.10,492.45 78.35,492.47 80.59,492.54 C82.84,492.61 85.08,492.69 87.32,492.85 C89.57,493.02 91.81,493.20 94.05,493.53 C96.30,493.87 98.54,494.25 100.78,494.86 C103.03,495.47 105.27,496.17 107.51,497.19 C109.76,498.20 112.00,499.39 114.24,500.95 C116.49,502.50 118.73,504.33 120.97,506.54 C123.22,508.75 125.46,511.32 127.71,514.22 C129.95,517.11 132.19,520.42 134.44,523.91 C136.68,527.40 138.92,531.29 141.17,535.17 C143.41,539.04 145.65,543.20 147.90,547.18 C150.14,551.16 152.38,555.24 154.63,559.05 C156.87,562.85 159.11,566.58 161.36,570.00 C163.60,573.42 165.85,576.63 168.09,579.56 C170.33,582.48 172.58,585.14 174.82,587.55 C177.06,589.96 179.31,592.09 181.55,594.03 C183.79,595.96 186.04,597.64 188.28,599.17 C190.52,600.69 192.77,602.00 195.01,603.19 C197.25,604.38 199.50,605.39 201.74,606.31 C203.99,607.24 206.23,608.02 208.47,608.73 C210.72,609.45 212.96,610.05 215.20,610.61 C217.45,611.16 219.69,611.63 221.93,612.06 C224.18,612.49 226.42,612.86 228.66,613.19 C230.91,613.53 233.15,613.81 235.39,614.08 C237.64,614.34 239.88,614.57 242.12,614.77 C244.37,614.98 246.61,615.16 248.86,615.32 C251.10,615.49 253.34,615.63 255.59,615.76 C257.83,615.89 260.07,616.00 262.32,616.11 C264.56,616.21 266.80,616.30 269.05,616.39 C271.29,616.47 273.53,616.55 275.78,616.61 C278.02,616.68 280.26,616.74 282.51,616.80 C284.75,616.85 287.00,616.90 289.24,616.95 C291.48,616.99 293.73,617.03 295.97,617.07 C298.21,617.11 301.58,617.15 302.70,617.17" fill="none" stroke="#ff0000" stroke-width="1.0"/>
<path d="M60.40,428.79 C61.52,428.79 64.89,428.79 67.13,428.80 C69.37,428.81 71.62,428.81 73.86,428.84 C76.10,428.87 78.35,428.89 80.59,428.98 C82.84,429.07 85.08,429.16 87.32,429.37 C89.57,429.58 91.81,429.81 94.05,430.24 C96.30,430.68 98.54,431.17 100.78,431.99 C103.03,432.80 105.27,433.74 107.51,435.12 C109.76,436.50 112.00,438.12 114.24,440.29 C116.49,442.46 118.73,445.00 120.97,448.15 C123.22,451.29 125.46,454.96 127.71,459.17 C129.95,463.38 132.19,468.21 134.44,473.38 C136.68,478.55 138.92,484.35 141.17,490.19 C143.41,496.03 145.65,502.35 147.90,508.42 C150.14,514.50 152.38,520.79 154.63,526.66 C156.87,532.53 159.11,538.32 161.36,543.63 C163.60,548.93 165.85,553.95 168.09,558.50 C170.33,563.05 172.58,567.19 174.82,570.94 C177.06,574.69 179.31,578.00 181.55,581.01 C183.79,584.01 186.04,586.60 188.28,588.96 C190.52,591.32 192.77,593.33 195.01,595.16 C197.25,596.99 199.50,598.53 201.74,599.94 C203.99,601.36 206.23,602.54 208.47,603.63 C210.72,604.71 212.96,605.63 215.20,606.46 C217.45,607.30 219.69,608.00 221.93,608.65 C224.18,609.30 226.42,609.84 228.66,610.34 C230.91,610.84 233.15,611.27 235.39,611.66 C237.64,612.05 239.88,612.38 242.12,612.68 C244.37,612.99 246.61,613.25 248.86,613.49 C251.10,613.73 253.34,613.94 255.59,614.13 C257.83,614.32 260.07,614.48 262.32,614.63 C264.56,614.79 266.80,614.92 269.05,615.04 C271.29,615.16 273.53,615.26 275.78,615.36 C278.02,615.46 280.26,615.55 282.51,615.62 C284.75,615.70 287.00,615.77 289.24,615.84 C291.48,615.90 293.73,615.96 295.97,616.01 C298.21,616.06 301.58,616.13 302.70,616.15" fill="none" stroke="#0000ff" stroke-width="1.0"/>
<rect x="55.3" y="354.05" width="279.9" height="279.34999999999997" fill="none" stroke="#111" stroke-width="1.3"/>
<line x1="55.6" y1="368.2" x2="59" y2="368.2" stroke="#222" stroke-width="1.2"/>
<text x="52.5" y="374.5" font-size="17.7" class="dj" fill="#000" text-anchor="end" stroke="#000" stroke-width="0.2">0.8</text>
<line x1="55.6" y1="493.8" x2="59" y2="493.8" stroke="#222" stroke-width="1.2"/>
<text x="52.5" y="500.1" font-size="17.7" class="dj" fill="#000" text-anchor="end" stroke="#000" stroke-width="0.2">0.4</text>
<line x1="55.6" y1="619.7" x2="59" y2="619.7" stroke="#222" stroke-width="1.2"/>
<text x="52.5" y="626.0" font-size="17.7" class="dj" fill="#000" text-anchor="end" stroke="#000" stroke-width="0.2">0</text>
<line x1="60.6" y1="633.4" x2="60.6" y2="630" stroke="#222" stroke-width="1.2"/>
<text x="60.6" y="653.9" font-size="17.7" class="dj" fill="#000" text-anchor="middle" stroke="#000" stroke-width="0.2">0</text>
<line x1="194.9" y1="633.4" x2="194.9" y2="630" stroke="#222" stroke-width="1.2"/>
<text x="194.9" y="653.9" font-size="17.7" class="dj" fill="#000" text-anchor="middle" stroke="#000" stroke-width="0.2">0.1</text>
<line x1="329.5" y1="633.4" x2="329.5" y2="630" stroke="#222" stroke-width="1.2"/>
<text x="329.5" y="653.9" font-size="17.7" class="dj" fill="#000" text-anchor="middle" stroke="#000" stroke-width="0.2">0.2</text>
<text transform="translate(-1.5 361.4) scale(1.0 1)" font-size="23" fill="#000" stroke="#000" stroke-width="0.75" style="font-family:'DejaVu Sans','Liberation Sans',sans-serif;font-weight:200">C</text>
<text x="14.5" y="493.7" font-size="19" fill="#000" text-anchor="middle" transform="rotate(-90 14.5 493.7)" stroke="#000" stroke-width="0.3">Γ (MHz)</text>
<text x="195.5" y="679.6" font-size="17.2" class="dj it" fill="#000" text-anchor="middle" stroke="#000" stroke-width="0.25">(T<tspan dx="2.5">−</tspan><tspan dx="2">T</tspan><tspan dy="3" font-size="12.5">c</tspan><tspan dy="-3" dx="1">)</tspan><tspan dx="0">/</tspan><tspan dx="0">T</tspan><tspan dy="3" font-size="12.5">c</tspan></text>
<rect x="200.3" y="360.6" width="129.5" height="109.7" rx="4" ry="4" fill="#fff" stroke="#000" stroke-width="1"/>
<rect x="211.25" y="373.05" width="5.5" height="5.5" fill="#e8796b"/>
<text x="228.3" y="379.0" font-size="17.4" fill="#000" text-anchor="start" stroke="#000" stroke-width="0.3">Sample</text>
<text transform="translate(291.98 378.7) skewX(12) scale(1.36 1)" font-size="18.79" fill="#000" stroke="#000" stroke-width="0.15">#</text>
<text x="306.426" y="379.0" font-size="16.529999999999998" fill="#000" text-anchor="start" stroke="#000" stroke-width="0.3">11</text>
<path d="M214.00,399.59 L217.70,407.21 L210.30,407.21 Z" fill="#e8796b"/>
<text x="228.3" y="405.7" font-size="17.4" fill="#000" text-anchor="start" stroke="#000" stroke-width="0.3">Sample</text>
<text transform="translate(291.98 405.4) skewX(12) scale(1.36 1)" font-size="18.79" fill="#000" stroke="#000" stroke-width="0.15">#</text>
<text x="306.426" y="405.7" font-size="16.529999999999998" fill="#000" text-anchor="start" stroke="#000" stroke-width="0.3">11</text>
<rect x="211.25" y="426.25" width="5.5" height="5.5" fill="#1e9eff"/>
<text x="228.3" y="432.1" font-size="17.4" fill="#000" text-anchor="start" stroke="#000" stroke-width="0.3">Sample</text>
<text transform="translate(291.98 431.8) skewX(12) scale(1.36 1)" font-size="18.79" fill="#000" stroke="#000" stroke-width="0.15">#</text>
<text x="306.426" y="432.1" font-size="16.529999999999998" fill="#000" text-anchor="start" stroke="#000" stroke-width="0.3">12</text>
<path d="M214.00,452.99 L217.70,460.61 L210.30,460.61 Z" fill="#1e9eff"/>
<text x="228.3" y="458.6" font-size="17.4" fill="#000" text-anchor="start" stroke="#000" stroke-width="0.3">Sample</text>
<text transform="translate(291.98 458.3) skewX(12) scale(1.36 1)" font-size="18.79" fill="#000" stroke="#000" stroke-width="0.15">#</text>
<text x="306.426" y="458.6" font-size="16.529999999999998" fill="#000" text-anchor="start" stroke="#000" stroke-width="0.3">12</text>
</g>
<g id="panel-d">
<rect x="414.50" y="384.90" width="5" height="5" fill="#10ff10"/>
<rect x="523.80" y="389.80" width="5" height="5" fill="#10ff10"/>
<rect x="554.90" y="389.30" width="5" height="5" fill="#10ff10"/>
<rect x="573.00" y="390.80" width="5" height="5" fill="#10ff10"/>
<rect x="584.30" y="393.70" width="5" height="5" fill="#10ff10"/>
<rect x="596.10" y="397.10" width="5" height="5" fill="#10ff10"/>
<rect x="599.90" y="395.90" width="5" height="5" fill="#10ff10"/>
<rect x="608.00" y="399.60" width="5" height="5" fill="#10ff10"/>
<rect x="613.10" y="403.80" width="5" height="5" fill="#10ff10"/>
<rect x="617.90" y="409.20" width="5" height="5" fill="#10ff10"/>
<rect x="623.00" y="415.50" width="5" height="5" fill="#10ff10"/>
<rect x="626.70" y="425.60" width="5" height="5" fill="#10ff10"/>
<rect x="630.50" y="429.00" width="5" height="5" fill="#10ff10"/>
<rect x="633.90" y="434.90" width="5" height="5" fill="#10ff10"/>
<rect x="636.90" y="449.80" width="5" height="5" fill="#10ff10"/>
<rect x="639.90" y="466.80" width="5" height="5" fill="#10ff10"/>
<rect x="643.30" y="485.90" width="5" height="5" fill="#10ff10"/>
<rect x="646.40" y="491.50" width="5" height="5" fill="#10ff10"/>
<rect x="649.90" y="600.80" width="5" height="5" fill="#10ff10"/>
<circle cx="529.30" cy="383.90" r="2.5" fill="#ff0000"/>
<circle cx="573.30" cy="387.40" r="2.5" fill="#ff0000"/>
<circle cx="596.50" cy="394.30" r="2.5" fill="#ff0000"/>
<circle cx="611.20" cy="395.00" r="2.5" fill="#ff0000"/>
<circle cx="622.10" cy="400.10" r="2.5" fill="#ff0000"/>
<circle cx="629.80" cy="409.10" r="2.5" fill="#ff0000"/>
<circle cx="637.30" cy="420.10" r="2.5" fill="#ff0000"/>
<circle cx="643.00" cy="431.80" r="2.5" fill="#ff0000"/>
<circle cx="648.50" cy="458.80" r="2.5" fill="#ff0000"/>
<circle cx="653.20" cy="486.70" r="2.5" fill="#ff0000"/>
<circle cx="657.30" cy="543.80" r="2.5" fill="#ff0000"/>
<circle cx="661.10" cy="559.10" r="2.5" fill="#ff0000"/>
<path d="M418.80,372.80 L422.10,376.10 L418.80,379.40 L415.50,376.10 Z" fill="#000"/>
<path d="M560.40,366.00 L563.70,369.30 L560.40,372.60 L557.10,369.30 Z" fill="#000"/>
<path d="M579.60,372.20 L582.90,375.50 L579.60,378.80 L576.30,375.50 Z" fill="#000"/>
<path d="M604.60,375.90 L607.90,379.20 L604.60,382.50 L601.30,379.20 Z" fill="#000"/>
<path d="M617.40,377.40 L620.70,380.70 L617.40,384.00 L614.10,380.70 Z" fill="#000"/>
<path d="M627.20,385.30 L630.50,388.60 L627.20,391.90 L623.90,388.60 Z" fill="#000"/>
<path d="M630.90,388.20 L634.20,391.50 L630.90,394.80 L627.60,391.50 Z" fill="#000"/>
<path d="M635.20,392.10 L638.50,395.40 L635.20,398.70 L631.90,395.40 Z" fill="#000"/>
<path d="M638.90,422.30 L642.20,425.60 L638.90,428.90 L635.60,425.60 Z" fill="#000"/>
<path d="M645.00,503.40 L648.30,506.70 L645.00,510.00 L641.70,506.70 Z" fill="#000"/>
<path d="M647.20,509.20 L650.50,512.50 L647.20,515.80 L643.90,512.50 Z" fill="#000"/>
<path d="M649.50,539.40 L652.80,542.70 L649.50,546.00 L646.20,542.70 Z" fill="#000"/>
<path d="M537.90,370.20 L541.10,376.80 L534.70,376.80 Z" fill="#1e9eff"/>
<path d="M566.30,368.00 L569.50,374.60 L563.10,374.60 Z" fill="#1e9eff"/>
<path d="M569.90,368.50 L573.10,375.10 L566.70,375.10 Z" fill="#1e9eff"/>
<path d="M604.10,372.00 L607.30,378.60 L600.90,378.60 Z" fill="#1e9eff"/>
<path d="M628.20,383.00 L631.40,389.60 L625.00,389.60 Z" fill="#1e9eff"/>
<path d="M644.50,515.40 L647.70,522.00 L641.30,522.00 Z" fill="#1e9eff"/>
<path d="M655.60,562.00 L658.80,568.60 L652.40,568.60 Z" fill="#1e9eff"/>
<path d="M560.00,385.40 C560.48,385.40 561.94,385.40 562.91,385.40 C563.88,385.40 564.85,385.40 565.82,385.40 C566.78,385.40 567.75,385.40 568.72,385.40 C569.69,385.40 570.66,385.41 571.63,385.41 C572.60,385.41 573.57,385.41 574.54,385.41 C575.51,385.41 576.48,385.41 577.44,385.41 C578.41,385.42 579.38,385.42 580.35,385.42 C581.32,385.43 582.29,385.43 583.26,385.43 C584.23,385.44 585.20,385.45 586.17,385.45 C587.14,385.46 588.11,385.47 589.08,385.48 C590.04,385.49 591.01,385.51 591.98,385.53 C592.95,385.54 593.92,385.56 594.89,385.59 C595.86,385.62 596.83,385.65 597.80,385.69 C598.77,385.74 599.74,385.78 600.70,385.85 C601.67,385.91 602.64,385.98 603.61,386.08 C604.58,386.18 605.55,386.29 606.52,386.44 C607.49,386.58 608.46,386.75 609.43,386.97 C610.40,387.19 611.37,387.44 612.34,387.77 C613.30,388.10 614.27,388.47 615.24,388.95 C616.21,389.43 617.18,389.97 618.15,390.66 C619.12,391.34 620.09,392.12 621.06,393.08 C622.03,394.04 623.00,395.12 623.96,396.41 C624.93,397.70 625.90,399.15 626.87,400.82 C627.84,402.49 628.81,404.36 629.78,406.43 C630.75,408.50 631.72,410.78 632.69,413.23 C633.66,415.69 634.63,418.35 635.60,421.15 C636.56,423.94 637.53,426.93 638.50,430.00 C639.47,433.08 640.44,436.32 641.41,439.61 C642.38,442.91 643.35,446.33 644.32,449.78 C645.29,453.24 646.26,456.79 647.22,460.36 C648.19,463.93 649.16,467.57 650.13,471.22 C651.10,474.87 652.07,478.57 653.04,482.28 C654.01,485.98 654.98,489.72 655.95,493.46 C656.92,497.20 657.89,500.96 658.86,504.73 C659.82,508.50 660.79,512.27 661.76,516.06 C662.73,519.84 663.70,523.63 664.67,527.42 C665.64,531.21 666.61,535.01 667.58,538.81 C668.55,542.61 669.52,546.41 670.48,550.22 C671.45,554.02 672.42,557.83 673.39,561.64 C674.36,565.44 675.82,571.15 676.30,573.06" fill="none" stroke="#0000ff" stroke-width="1.3"/>
<line x1="402.2" y1="385.4" x2="560.5" y2="385.4" stroke="#0000ff" stroke-width="1.3"/>
<rect x="402.2" y="354.9" width="278.25000000000006" height="278.5" fill="none" stroke="#111" stroke-width="1.3"/>
<text x="400.2" y="360.6" font-size="17" fill="#000" text-anchor="end" stroke="#000" stroke-width="0.3">1</text>
<line x1="402.2" y1="448.6" x2="405.5" y2="448.6" stroke="#222" stroke-width="1.2"/>
<text x="398" y="454.1" font-size="17" fill="#000" text-anchor="end" stroke="#000" stroke-width="0.3">0.1</text>
<line x1="402.2" y1="542.7" x2="405.5" y2="542.7" stroke="#222" stroke-width="1.2"/>
<text x="398" y="548.2" font-size="17" fill="#000" text-anchor="end" stroke="#000" stroke-width="0.3">0.01</text>
<line x1="457.4" y1="633.2" x2="457.4" y2="630" stroke="#222" stroke-width="1.2"/>
<text x="457.4" y="651.4" font-size="17.1" fill="#000" text-anchor="middle" stroke="#000" stroke-width="0.3">0.001</text>
<line x1="554.3" y1="633.2" x2="554.3" y2="630" stroke="#222" stroke-width="1.2"/>
<text x="554.3" y="651.4" font-size="17.1" fill="#000" text-anchor="middle" stroke="#000" stroke-width="0.3">0.01</text>
<line x1="651.3" y1="633.2" x2="651.3" y2="630" stroke="#222" stroke-width="1.2"/>
<text x="651.3" y="651.4" font-size="17.1" fill="#000" text-anchor="middle" stroke="#000" stroke-width="0.3">0.1</text>
<text transform="translate(348.3 362.1) scale(1.07 1)" font-size="26" fill="#000" stroke="#000" stroke-width="0.75" style="font-family:'DejaVu Sans','Liberation Sans',sans-serif;font-weight:200">d</text>
<text x="357.3" y="493.8" font-size="19" fill="#000" text-anchor="middle" transform="rotate(-90 357.3 493.8)" stroke="#000" stroke-width="0.3">Γ (MHz)</text>
<text x="541.5" y="676.4" font-size="18" class="it" fill="#000" text-anchor="middle" stroke="#000" stroke-width="0.3">(T<tspan dx="2.5">−</tspan><tspan dx="2">T</tspan><tspan dy="3" font-size="12.5">c</tspan><tspan dy="-3" dx="1">)</tspan><tspan dx="0">/</tspan><tspan dx="0">T</tspan><tspan dy="3" font-size="12.5">c</tspan></text>
<text x="613" y="458.3" font-size="18.7" class="it" fill="#000" text-anchor="end" stroke="#000" stroke-width="0.3">(T<tspan dx="2.5">−</tspan><tspan dx="2">T</tspan><tspan dy="3" font-size="13">c</tspan><tspan dy="-3" dx="1">)</tspan><tspan dx="1">/</tspan><tspan dx="1">T</tspan><tspan dy="3" font-size="13">c</tspan><tspan dy="-3" dx="7.5">≈</tspan><tspan dx="6.5">0.05</tspan></text>
<text x="597.3" y="483.6" font-size="18.7" class="it" fill="#000" text-anchor="end" word-spacing="1.6" stroke="#000" stroke-width="0.3"><tspan class="dj" font-size="18">ω</tspan> = 0.4 MHz</text>
<line x1="568.8" y1="438.2" x2="611" y2="398.8" stroke="#000" stroke-width="1"/>
<path d="M618,392.2 L607.3,397.2 L611.2,398.8 L612.6,403.6 Z" fill="#000"/>
<rect x="411.4" y="529.6" width="120.5" height="96.1" rx="4" ry="4" fill="#fff" stroke="#000" stroke-width="1"/>
<circle cx="421.70" cy="543.90" r="5.1" fill="#ff0000"/>
<text x="432.8" y="546.1" font-size="17.1" fill="#000" text-anchor="start" stroke="#000" stroke-width="0.3">Sample</text>
<text transform="translate(495.39 545.8000000000001) skewX(12) scale(1.36 1)" font-size="18.47" fill="#000" stroke="#000" stroke-width="0.15">#</text>
<text x="509.579" y="546.1" font-size="16.245" fill="#000" text-anchor="start" stroke="#000" stroke-width="0.3">11</text>
<rect x="416.70" y="562.30" width="10" height="10" fill="#10ff10"/>
<text x="432.8" y="569.2" font-size="17.1" fill="#000" text-anchor="start" stroke="#000" stroke-width="0.3">Sample</text>
<text transform="translate(495.39 568.9000000000001) skewX(12) scale(1.36 1)" font-size="18.47" fill="#000" stroke="#000" stroke-width="0.15">#</text>
<text x="509.579" y="569.2" font-size="16.245" fill="#000" text-anchor="start" stroke="#000" stroke-width="0.3">11</text>
<path d="M421.70,584.70 L427.70,590.70 L421.70,596.70 L415.70,590.70 Z" fill="#000"/>
<text x="432.8" y="593" font-size="17.1" fill="#000" text-anchor="start" stroke="#000" stroke-width="0.3">Sample</text>
<text transform="translate(495.39 592.7) skewX(12) scale(1.36 1)" font-size="18.47" fill="#000" stroke="#000" stroke-width="0.15">#</text>
<text x="509.579" y="593" font-size="16.245" fill="#000" text-anchor="start" stroke="#000" stroke-width="0.3">12</text>
<path d="M421.70,608.17 L427.85,620.83 L415.55,620.83 Z" fill="#1e9eff"/>
<text x="432.8" y="616.2" font-size="17.1" fill="#000" text-anchor="start" stroke="#000" stroke-width="0.3">Sample</text>
<text transform="translate(495.39 615.9000000000001) skewX(12) scale(1.36 1)" font-size="18.47" fill="#000" stroke="#000" stroke-width="0.15">#</text>
<text x="509.579" y="616.2" font-size="16.245" fill="#000" text-anchor="start" stroke="#000" stroke-width="0.3">12</text>
</g>
</svg>
</body>
</html>
